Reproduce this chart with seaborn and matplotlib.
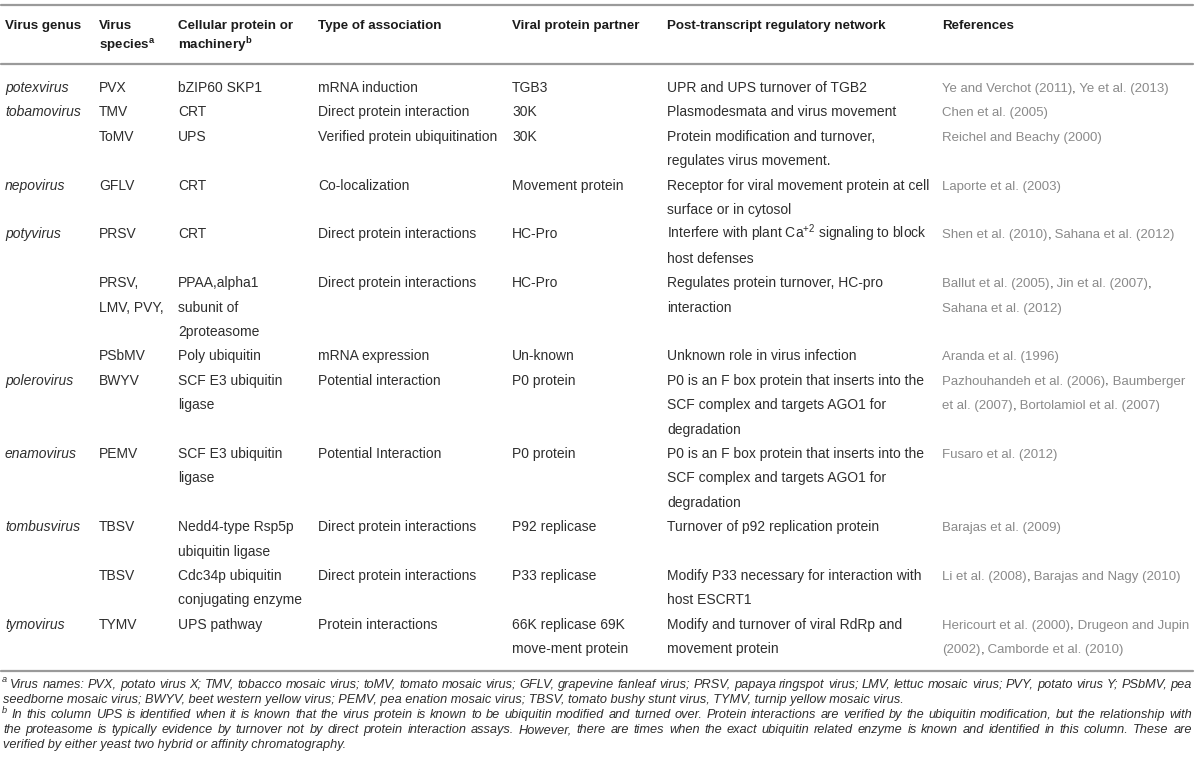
import matplotlib
matplotlib.use("Agg")
import matplotlib.pyplot as plt
import seaborn as sns
import pandas as pd

# ---------------- table content ----------------
genus = ["potexvirus", "tobamovirus", "", "nepovirus", "potyvirus", "", "",
         "polerovirus", "enamovirus", "tombusvirus", "", "tymovirus"]
species = ["PVX", "TMV", "ToMV", "GFLV", "PRSV", "PRSV,\nLMV, PVY,", "PSbMV",
           "BWYV", "PEMV", "TBSV", "TBSV", "TYMV"]
cellular = ["bZIP60 SKP1", "CRT", "UPS", "CRT", "CRT",
            "PPAA,alpha1\nsubunit of\n2proteasome", "Poly ubiquitin",
            "SCF E3 ubiquitin\nligase", "SCF E3 ubiquitin\nligase",
            "Nedd4-type Rsp5p\nubiquitin ligase",
            "Cdc34p ubiquitin\nconjugating enzyme", "UPS pathway"]
association = ["mRNA induction", "Direct protein interaction",
               "Verified protein ubiquitination", "Co-localization",
               "Direct protein interactions", "Direct protein interactions",
               "mRNA expression", "Potential interaction", "Potential Interaction",
               "Direct protein interactions", "Direct protein interactions",
               "Protein interactions"]
viral = ["TGB3", "30K", "30K", "Movement protein", "HC-Pro", "HC-Pro", "Un-known",
         "P0 protein", "P0 protein", "P92 replicase", "P33 replicase",
         "66K replicase 69K\nmove-ment protein"]
network = ["UPR and UPS turnover of TGB2",
           "Plasmodesmata and virus movement",
           "Protein modification and turnover,\nregulates virus movement.",
           "Receptor for viral movement protein at cell\nsurface or in cytosol",
           "Interfere with plant Ca$^{+2}$ signaling to block\nhost defenses",
           "Regulates protein turnover, HC-pro\ninteraction",
           "Unknown role in virus infection",
           "P0 is an F box protein that inserts into the\nSCF complex and targets AGO1 for\ndegradation",
           "P0 is an F box protein that inserts into the\nSCF complex and targets AGO1 for\ndegradation",
           "Turnover of p92 replication protein",
           "Modify P33 necessary for interaction with\nhost ESCRT1",
           "Modify and turnover of viral RdRp and\nmovement protein"]
references = ["Ye and Verchot (2011), Ye et al. (2013)",
              "Chen et al. (2005)",
              "Reichel and Beachy (2000)",
              "Laporte et al. (2003)",
              "Shen et al. (2010), Sahana et al. (2012)",
              "Ballut et al. (2005), Jin et al. (2007),\nSahana et al. (2012)",
              "Aranda et al. (1996)",
              "Pazhouhandeh et al. (2006), Baumberger\net al. (2007), Bortolamiol et al. (2007)",
              "Fusaro et al. (2012)",
              "Barajas et al. (2009)",
              "Li et al. (2008), Barajas and Nagy (2010)",
              "Hericourt et al. (2000), Drugeon and Jupin\n(2002), Camborde et al. (2010)"]

headers = [["Virus genus"], ["Virus", "species"], ["Cellular protein or", "machinery"],
           ["Type of association"], ["Viral protein partner"],
           ["Post-transcript regulatory network"], ["References"]]
header_sup = ["", "a", "b", "", "", "", ""]

footnote_a = ["Virus names: PVX, potato virus X; TMV, tobacco mosaic virus; toMV, tomato mosaic virus; GFLV, grapevine fanleaf virus; PRSV, papaya ringspot virus; LMV, lettuc mosaic virus; PVY, potato virus Y; PSbMV, pea",
              "seedborne mosaic virus; BWYV, beet western yellow virus; PEMV, pea enation mosaic virus; TBSV, tomato bushy stunt virus, TYMV, turnip yellow mosaic virus."]
footnote_b = ["In this column UPS is identified when it is known that the virus protein is known to be ubiquitin modified and turned over. Protein interactions are verified by the ubiquitin modification, but the relationship with",
              "the proteasome is typically evidence by turnover not by direct protein interaction assays. However, there are times when the exact ubiquitin related enzyme is known and identified in this column. These are",
              "verified by either yeast two hybrid or affinity chromatography."]

# ---------------- layout ----------------
W, H = 1200, 766
col_x = [5, 99, 178, 318, 512, 667, 942]
rule_x0, rule_x1 = 1, 1193
top_rule_y, head_rule_y, bottom_rule_y = 4.5, 63.5, 670.5
head_line_y = [24, 44]
body_y0, body_dy = 87, 24.4
foot_y0, foot_dy = 683, 15.2

FONT = "Liberation Sans"
TXT = "#2e2e2e"
HEAD = "#1c1c1c"
REF = "#8a8a8a"
RULE = "#9a9a9a"

sns.set_theme(style="white")
plt.rcParams["font.family"] = [FONT, "DejaVu Sans"]
plt.rcParams["mathtext.fontset"] = "custom"
plt.rcParams["mathtext.rm"] = FONT
plt.rcParams["mathtext.it"] = FONT + ":italic"
plt.rcParams["mathtext.bf"] = FONT + ":bold"

fig = plt.figure(figsize=(W / 100, H / 100), dpi=100)
fig.patch.set_facecolor("white")
ax = fig.add_axes([0, 0, 1, 1])
ax.set_xlim(0, W)
ax.set_ylim(H, 0)
ax.axis("off")
fig.canvas.draw()
renderer = fig.canvas.get_renderer()


def tw(s, **kw):
    a = ax.text(0, 0, "|" + s + "|", **kw)
    b = ax.text(0, 0, "||", **kw)
    w = a.get_window_extent(renderer).width - b.get_window_extent(renderer).width
    a.remove()
    b.remove()
    return w


# fit font sizes to measured string widths of the reference
fs_body = 10 * 152 / tw("Direct protein interaction", fontsize=10)
fs_ref = 10 * 248 / tw("Hericourt et al. (2000), Drugeon and Jupin", fontsize=10)
fs_head = 10 * 123 / tw("Type of association", fontsize=10, fontweight="bold")
fs_foot = 10 * 904 / tw(footnote_a[1], fontsize=10, style="italic")

# rules drawn through seaborn
rules = pd.DataFrame({"x": [rule_x0, rule_x1] * 3,
                      "y": [top_rule_y] * 2 + [head_rule_y] * 2 + [bottom_rule_y] * 2,
                      "rule": ["top"] * 2 + ["head"] * 2 + ["bottom"] * 2})
sns.lineplot(data=rules, x="x", y="y", units="rule", estimator=None, color=RULE,
             lw=1.6, ax=ax, legend=False, sort=False)
ax.set_xlim(0, W)
ax.set_ylim(H, 0)
ax.axis("off")

cap_off = 0.36 * fs_body * 100 / 72  # baseline offset from visual centre

# header
for j, lines in enumerate(headers):
    for k, line in enumerate(lines):
        s = line
        if k == len(lines) - 1 and header_sup[j]:
            s = line + r"$^{\mathbf{" + header_sup[j] + "}}$"
        ax.text(col_x[j], head_line_y[k] + cap_off, s, fontsize=fs_head,
                fontweight="bold", color=HEAD, va="baseline", ha="left")


def draw_ref_line(x, y, line):
    parts = line.split(",")
    cur = x
    for i, p in enumerate(parts):
        if p:
            ax.text(cur, y, p, fontsize=fs_ref, color=REF, va="baseline", ha="left")
            cur += tw(p, fontsize=fs_ref)
        if i < len(parts) - 1:
            ax.text(cur, y, ",", fontsize=fs_ref, color=TXT, va="baseline", ha="left")
            cur += tw(",", fontsize=fs_ref)


# body
columns = [genus, species, cellular, association, viral, network, references]
line_idx = 0
for r in range(len(genus)):
    nlines = max(len(c[r].split("\n")) for c in columns)
    for j, col in enumerate(columns):
        for k, line in enumerate(col[r].split("\n")):
            if not line:
                continue
            y = body_y0 + (line_idx + k) * body_dy + cap_off
            if j == 6:
                draw_ref_line(col_x[j], y, line)
            else:
                ax.text(col_x[j], y, line, fontsize=fs_body, color=TXT,
                        style="italic" if j == 0 else "normal",
                        va="baseline", ha="left")
    line_idx += nlines

# footnotes
foot_off = 0.36 * fs_foot * 100 / 72
right = 1192


def draw_justified(x0, y, line, justify):
    if not justify:
        ax.text(x0, y, line, fontsize=fs_foot, style="italic", color=TXT,
                va="baseline", ha="left")
        return
    words = line.split(" ")
    ws = [tw(w, fontsize=fs_foot, style="italic") for w in words]
    gap = (right - x0 - sum(ws)) / (len(words) - 1)
    cur = x0
    for w, wd in zip(words, ws):
        ax.text(cur, y, w, fontsize=fs_foot, style="italic", color=TXT,
                va="baseline", ha="left")
        cur += wd + gap


fi = 0
for letter, lines, first_x in (("a", footnote_a, 10), ("b", footnote_b, 12)):
    for k, line in enumerate(lines):
        y = foot_y0 + fi * foot_dy + foot_off
        if k == 0:
            ax.text(2, y - 0.42 * fs_foot * 100 / 72, letter, fontsize=fs_foot * 0.72,
                    style="italic", color=TXT, va="baseline", ha="left")
        draw_justified(first_x if k == 0 else 3, y, line, k < len(lines) - 1)
        fi += 1

fig.savefig("out.png", dpi=100, facecolor="white")
